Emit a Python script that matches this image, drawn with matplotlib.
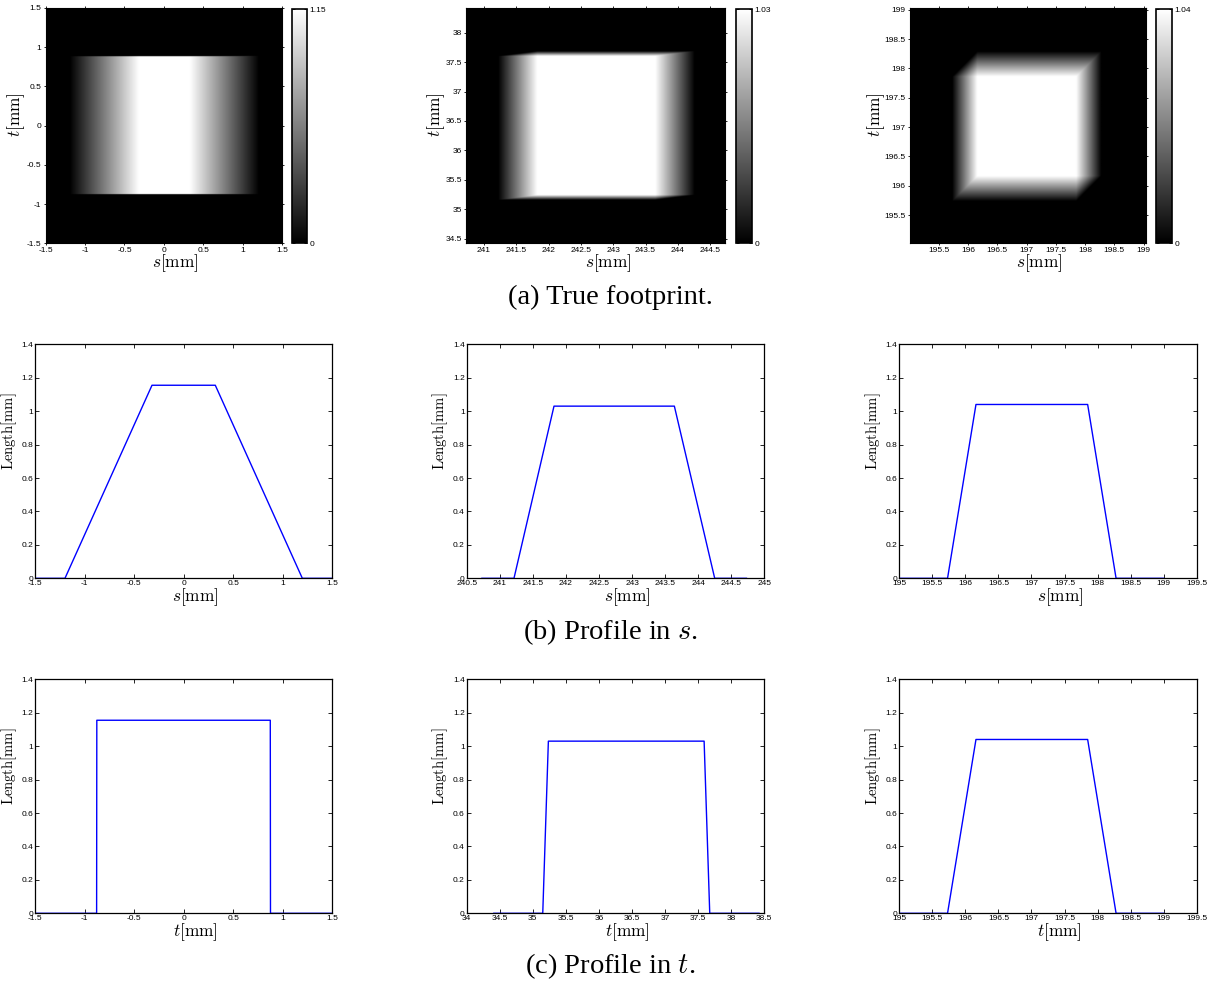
import numpy as np
import matplotlib
matplotlib.use("Agg")
import matplotlib.pyplot as plt
from matplotlib.ticker import FuncFormatter, MultipleLocator

plt.rcParams['mathtext.fontset'] = 'cm'
plt.rcParams['axes.unicode_minus'] = False
plt.rcParams['font.family'] = ['Liberation Sans', 'DejaVu Sans']

# ---- data (profile breakpoints) ----
# each profile: [start, zero_left, peak_start, peak_end, zero_right, end]
p1_s = [-1.5, -1.2, -0.32, 0.32, 1.2, 1.5]
p1_t = [-1.5, -0.88, -0.878, 0.876, 0.878, 1.5]
p1_peak = 1.155

p2_s = [240.73, 241.215, 241.82, 243.64, 244.25, 244.73]
p2_t = [34.41, 35.15, 35.235, 37.59, 37.675, 38.42]
p2_peak = 1.03

p3_s = [195.0, 195.73, 196.16, 197.85, 198.28, 199.0]
p3_t = [195.0, 195.73, 196.16, 197.85, 198.28, 199.0]
p3_peak = 1.04

cbar_labels = ['1.15', '1.03', '1.04']

img_s_lim = [[-1.5, 1.5], [240.72, 244.73], [195.01, 199.04]]
img_t_lim = [[-1.5, 1.5], [34.42, 38.42], [195.02, 199.03]]
img_s_ticks = [[-1.5, -1, -0.5, 0, 0.5, 1, 1.5],
               [241, 241.5, 242, 242.5, 243, 243.5, 244, 244.5],
               [195.5, 196, 196.5, 197, 197.5, 198, 198.5, 199]]
img_t_ticks = [[-1.5, -1, -0.5, 0, 0.5, 1, 1.5],
               [34.5, 35, 35.5, 36, 36.5, 37, 37.5, 38],
               [195.5, 196, 196.5, 197, 197.5, 198, 198.5, 199]]

prof_s_lim = [[-1.5, 1.5], [240.5, 245], [195, 199.5]]
prof_t_lim = [[-1.5, 1.5], [34, 38.5], [195, 199.5]]

profiles_s = [p1_s, p2_s, p3_s]
profiles_t = [p1_t, p2_t, p3_t]
peaks = [p1_peak, p2_peak, p3_peak]


def footprint(S, T, ps, pt, peak):
    rs = np.interp(S, ps[1:3], [-1.0, 0.0])
    fs = np.interp(S, ps[3:5], [1.0, 0.0])
    rt = np.interp(T, pt[1:3], [-1.0, 0.0])
    ft = np.interp(T, pt[3:5], [1.0, 0.0])
    return peak * np.maximum(0.0, np.minimum(fs, ft) + np.minimum(rs, rt))


W, H = 1220, 994
fig = plt.figure(figsize=(W / 100, H / 100), dpi=100)


def fr(x0, y0, x1, y1):
    return [x0 / W, 1 - y1 / H, (x1 - x0) / W, (y1 - y0) / H]


fmt = FuncFormatter(lambda v, p: '%g' % v)
TICK_FS = 6
LAB_FS = 12.5

img_axes = [(45.7, 282), (466, 725), (910, 1146)]
cb_axes = [(292, 307), (736, 752), (1156, 1172)]
ylab_x_top = [-0.08, -0.074, -0.097]

for i in range(3):
    ax = fig.add_axes(fr(img_axes[i][0], 8, img_axes[i][1], 243.3))
    sx = np.linspace(img_s_lim[i][0], img_s_lim[i][1], 700)
    ty = np.linspace(img_t_lim[i][0], img_t_lim[i][1], 700)
    S, T = np.meshgrid(sx, ty)
    Z = footprint(S, T, profiles_s[i], profiles_t[i], peaks[i])
    im = ax.imshow(Z, extent=[sx[0], sx[-1], ty[0], ty[-1]], origin='lower',
                   aspect='auto', cmap='gray', vmin=0, vmax=peaks[i],
                   interpolation='bilinear')
    ax.set_xlim(img_s_lim[i])
    ax.set_ylim(img_t_lim[i])
    ax.set_xticks(img_s_ticks[i])
    ax.set_yticks(img_t_ticks[i])
    ax.xaxis.set_major_formatter(fmt)
    ax.yaxis.set_major_formatter(fmt)
    ax.tick_params(direction='inout', length=3, width=0.6, labelsize=TICK_FS,
                   top=True, right=True, pad=1.5)
    ax.set_xlabel(r'$s[\mathrm{mm}]$', fontsize=LAB_FS)
    ax.set_ylabel(r'$t[\mathrm{mm}]$', fontsize=LAB_FS)
    ax.xaxis.set_label_coords(0.548, -0.04)
    ax.yaxis.set_label_coords(ylab_x_top[i], 0.545)
    for sp in ax.spines.values():
        sp.set_linewidth(0.8)

    cax = fig.add_axes(fr(cb_axes[i][0], 9, cb_axes[i][1], 243))
    cb = fig.colorbar(im, cax=cax, ticks=[0, peaks[i]])
    cb.ax.set_yticklabels(['0', cbar_labels[i]])
    cb.ax.tick_params(labelsize=TICK_FS, direction='in', length=2.5, width=0.6,
                      left=True, right=True, pad=2)
    cb.outline.set_linewidth(1.2)

prof_axes = [(35.3, 332), (466.7, 764.3), (899.3, 1196.7)]
rows = [(344.3, 578.3, profiles_s, prof_s_lim, 's'),
        (679.3, 913.3, profiles_t, prof_t_lim, 't')]

for (y0, y1, profs, lims, var) in rows:
    for i in range(3):
        ax = fig.add_axes(fr(prof_axes[i][0], y0, prof_axes[i][1], y1))
        pts = profs[i]
        vals = [0, 0, peaks[i], peaks[i], 0, 0]
        ax.plot(pts, vals, color='#0000ff', lw=1.0)
        ax.set_xlim(lims[i])
        ax.set_ylim(0, 1.4)
        ax.xaxis.set_major_locator(MultipleLocator(0.5))
        ax.yaxis.set_major_locator(MultipleLocator(0.2))
        ax.xaxis.set_major_formatter(fmt)
        ax.yaxis.set_major_formatter(fmt)
        ax.tick_params(direction='in', length=3, width=0.6, labelsize=TICK_FS,
                       top=True, right=True, pad=1.5)
        ax.set_xlabel(r'$%s[\mathrm{mm}]$' % var, fontsize=LAB_FS)
        ax.set_ylabel(r'$\mathrm{Length[mm]}$', fontsize=10.5)
        ax.xaxis.set_label_coords(0.54, -0.032)
        ax.yaxis.set_label_coords(-0.055, 0.63)
        for sp in ax.spines.values():
            sp.set_linewidth(0.9)

cap_kw = dict(ha='center', va='center', fontsize=20.5,
              family=['Liberation Serif', 'DejaVu Serif'])
fig.text(0.5, 1 - 297 / H, '(a) True footprint.', **cap_kw)
fig.text(0.5, 1 - 632 / H, r'(b) Profile in $s$.', **cap_kw)
fig.text(0.5, 1 - 966 / H, r'(c) Profile in $t$.', **cap_kw)

fig.savefig('out.png', dpi=100)
